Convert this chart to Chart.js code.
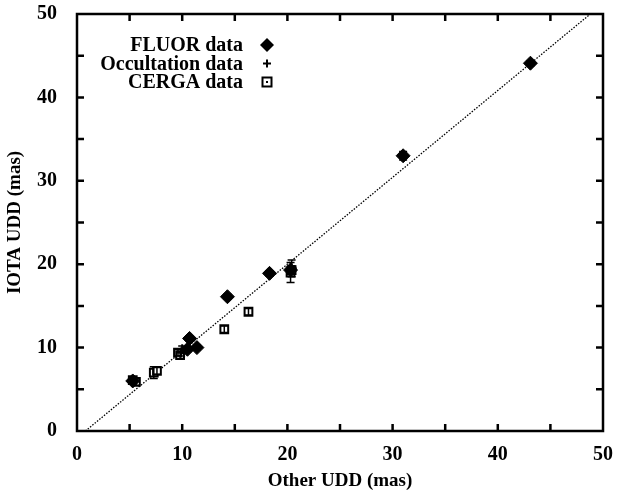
<!DOCTYPE html>
<html>
<head>
<meta charset="utf-8">
<script src="https://cdn.jsdelivr.net/npm/chart.js@4/dist/chart.umd.min.js"></script>
<style>
  html, body { margin: 0; padding: 0; background: #fff; }
  #wrap { width: 618px; height: 492px; }
</style>
</head>
<body>
<div id="wrap"><canvas id="myChart" width="618" height="492"></canvas></div>
<script>
// FLUOR data (filled diamonds)
var fluorX = [43.1, 31.0, 18.3, 14.3, 10.7, 10.5, 11.4, 20.3, 5.3];
var fluorY = [44.1, 33.0, 18.9, 16.1, 11.1, 9.8, 10.0, 19.3, 6.0];
var fluorErr = [0.3, 0.3, 0.3, 0.3, 0.3, 0.3, 0.3, 0.4, 0.2];

// Occultation data (plus signs)
var occX = [31.0, 20.4, 10.0, 9.9];
var occY = [33.0, 19.5, 9.8, 9.4];
var occErr = [0.5, 1.0, 0.4, 0.4];

// CERGA data (open squares)
var cergaX = [5.3, 5.6, 7.3, 7.6, 9.6, 9.8, 14.0, 16.3, 20.3, 20.4];
var cergaY = [6.1, 5.9, 7.0, 7.2, 9.4, 9.1, 12.2, 14.3, 19.0, 19.3];
var cergaErr = [0.4, 0.4, 0.7, 0.4, 0.4, 0.4, 0.4, 0.4, 1.2, 0.5];

// fitted line
var lineX = [0.8, 48.8];
var lineY = [0, 50];

var xTicks = [0, 10, 20, 30, 40, 50];
var yTicks = [0, 10, 20, 30, 40, 50];

var FONT = "'Liberation Serif', 'DejaVu Serif', serif";

function pts(xs, ys, errs) {
  return xs.map(function (x, i) {
    return { x: x, y: ys[i], err: errs ? errs[i] : 0 };
  });
}

// vertical error bars
var errorBars = {
  id: "errorBars",
  afterDatasetsDraw: function (chart) {
    var ctx = chart.ctx;
    var xs = chart.scales.x, ys = chart.scales.y;
    ctx.save();
    ctx.strokeStyle = "#000";
    ctx.lineWidth = 1.5;
    chart.data.datasets.forEach(function (ds) {
      if (!ds.errBars) return;
      ds.data.forEach(function (p) {
        if (!p.err) return;
        var px = xs.getPixelForValue(p.x);
        var y1 = ys.getPixelForValue(p.y - p.err);
        var y2 = ys.getPixelForValue(p.y + p.err);
        ctx.beginPath();
        ctx.moveTo(px, y1); ctx.lineTo(px, y2);
        ctx.moveTo(px - 4, y1); ctx.lineTo(px + 4, y1);
        ctx.moveTo(px - 4, y2); ctx.lineTo(px + 4, y2);
        ctx.stroke();
      });
    });
    ctx.restore();
  }
};

// frame with inward ticks on all four sides
var frame = {
  id: "frame",
  afterDraw: function (chart) {
    var ctx = chart.ctx;
    var a = chart.chartArea;
    var xs = chart.scales.x, ys = chart.scales.y;
    ctx.save();
    ctx.strokeStyle = "#000";
    ctx.lineWidth = 2.5;
    ctx.strokeRect(a.left, a.top, a.right - a.left, a.bottom - a.top);
    for (var v = 5; v < 50; v += 5) {
      var px = xs.getPixelForValue(v);
      var py = ys.getPixelForValue(v);
      ctx.beginPath();
      ctx.moveTo(px, a.bottom); ctx.lineTo(px, a.bottom - 7);
      ctx.moveTo(px, a.top); ctx.lineTo(px, a.top + 7);
      ctx.moveTo(a.left, py); ctx.lineTo(a.left + 7, py);
      ctx.moveTo(a.right, py); ctx.lineTo(a.right - 7, py);
      ctx.stroke();
    }
    ctx.restore();
  }
};

// legend inside the plot, text right-aligned with symbol on the right
var keyBox = {
  id: "keyBox",
  afterDraw: function (chart) {
    var ctx = chart.ctx;
    var rows = ["FLUOR data", "Occultation data", "CERGA data"];
    var tx = 243, sx = 267, y0 = 46, dy = 18.5;
    ctx.save();
    ctx.font = "bold 20px " + FONT;
    ctx.fillStyle = "#000";
    ctx.textAlign = "right";
    ctx.textBaseline = "middle";
    rows.forEach(function (r, i) {
      ctx.fillText(r, tx, y0 + i * dy);
    });
    ctx.strokeStyle = "#000";
    ctx.lineWidth = 2;
    // diamond
    var y = y0 - 1;
    ctx.beginPath();
    ctx.moveTo(sx, y - 7); ctx.lineTo(sx + 7, y); ctx.lineTo(sx, y + 7); ctx.lineTo(sx - 7, y);
    ctx.closePath(); ctx.fill();
    // plus
    y = y0 + dy - 1;
    ctx.beginPath();
    ctx.moveTo(sx - 4, y); ctx.lineTo(sx + 4, y);
    ctx.moveTo(sx, y - 4); ctx.lineTo(sx, y + 4);
    ctx.stroke();
    // square with dot
    y = y0 + 2 * dy - 1;
    ctx.strokeRect(sx - 4.5, y - 4.5, 9, 9);
    ctx.fillRect(sx - 1, y - 1, 2, 2);
    ctx.restore();
  }
};

var ctx = document.getElementById("myChart");

new Chart(ctx, {
  type: "scatter",
  data: {
    datasets: [
      {
        label: "fit",
        type: "line",
        data: pts(lineX, lineY),
        borderColor: "#000",
        borderWidth: 1.3,
        borderDash: [1.5, 1.5],
        pointRadius: 0,
        fill: false,
        order: 4
      },
      {
        label: "CERGA data",
        data: pts(cergaX, cergaY, cergaErr),
        errBars: true,
        pointStyle: "rect",
        pointRadius: 5.5,
        backgroundColor: "#fff",
        borderColor: "#000",
        borderWidth: 2,
        order: 3
      },
      {
        label: "Occultation data",
        data: pts(occX, occY, occErr),
        errBars: true,
        pointStyle: "cross",
        pointRadius: 5,
        borderColor: "#000",
        borderWidth: 2,
        order: 2
      },
      {
        label: "FLUOR data",
        data: pts(fluorX, fluorY, fluorErr),
        errBars: true,
        pointStyle: "rectRot",
        pointRadius: 7,
        backgroundColor: "#000",
        borderColor: "#000",
        borderWidth: 1,
        order: 1
      }
    ]
  },
  options: {
    responsive: false,
    animation: false,
    layout: { padding: { left: 0, right: 15, top: 14, bottom: 0 } },
    plugins: {
      legend: { display: false },
      tooltip: { enabled: false }
    },
    scales: {
      x: {
        type: "linear",
        min: 0,
        max: 50,
        afterFit: function (s) {
          s.height = 61;
          s.paddingLeft = 0;
          s.paddingRight = 0;
        },
        afterBuildTicks: function (s) {
          s.ticks = xTicks.map(function (v) { return { value: v }; });
        },
        grid: { display: false },
        border: { display: false },
        ticks: {
          color: "#000",
          padding: 4,
          maxRotation: 0,
          font: { family: FONT, size: 20, weight: "bold" }
        },
        title: {
          display: true,
          text: "Other UDD (mas)",
          color: "#000",
          padding: { top: 2, bottom: 0 },
          font: { family: FONT, size: 19, weight: "bold" }
        }
      },
      y: {
        type: "linear",
        min: 0,
        max: 50,
        afterFit: function (s) {
          s.width = 77;
          s.paddingTop = 0;
          s.paddingBottom = 0;
        },
        afterBuildTicks: function (s) {
          s.ticks = yTicks.map(function (v) { return { value: v }; });
        },
        grid: { display: false },
        border: { display: false },
        ticks: {
          color: "#000",
          padding: 12,
          font: { family: FONT, size: 20, weight: "bold" }
        },
        title: {
          display: true,
          text: "IOTA UDD (mas)",
          color: "#000",
          padding: { top: 4, bottom: 4 },
          font: { family: FONT, size: 19, weight: "bold" }
        }
      }
    }
  },
  plugins: [errorBars, frame, keyBox]
});
</script>
</body>
</html>
